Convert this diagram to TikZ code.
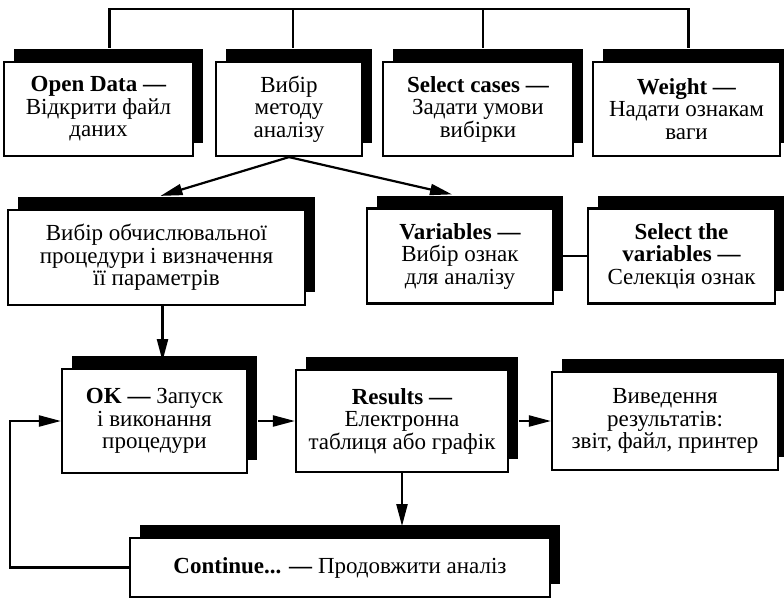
\documentclass[tikz,border=0pt]{standalone}
\usepackage{fontspec}
\setmainfont{Liberation Serif}
\usetikzlibrary{arrows.meta}
\usetikzlibrary{shadows}
\usetikzlibrary{calc}

\begin{document}
\begin{tikzpicture}[x=1pt, y=-1pt, line width=2.2pt,
>={Triangle[length=22pt,width=11pt]},
block/.style={draw, fill=white, align=center, inner sep=2pt,
  font=\fontsize{23}{22.5}\selectfont,
  drop shadow={shadow xshift=10pt, shadow yshift=13pt, fill=black, opacity=1}},
flow/.style={->}]
\useasboundingbox (0,0) rectangle (784,598);

\node [block, minimum width=189pt, minimum height=94pt] (open) at (98.5,109) {\textbf{Open Data —}\\Відкрити файл\\даних};
\node [block, minimum width=146pt, minimum height=94pt] (method) at (289,109) {Вибір\\методу\\аналізу};
\node [block, minimum width=190pt, minimum height=94pt] (cases) at (478,109) {\textbf{Select cases —}\\Задати умови\\вибірки};
\node [block, minimum width=187pt, minimum height=94pt] (weight) at (686.5,109) {\textbf{Weight —}\\Надати ознакам\\ваги};

\node [block, minimum width=297pt, minimum height=95pt] (proc) at (156.5,257.5) {Вибір обчислювальної\\процедури і визначення\\її параметрів};
\node [block, minimum width=186pt, minimum height=95pt] (vars) at (460,256) {\textbf{Variables —}\\Вибір ознак\\для аналізу};
\node [block, minimum width=187pt, minimum height=95pt] (selvars) at (681.5,256) {\textbf{Select the}\\\textbf{variables —}\\Селекція ознак};

\node [block, minimum width=185pt, minimum height=104pt] (ok) at (154.5,421) {\textbf{OK —} Запуск\\і виконання\\процедури};
\node [block, minimum width=212pt, minimum height=102pt] (results) at (402,421) {\textbf{Results —}\\Електронна\\таблиця або графік};
\node [block, minimum width=226pt, minimum height=98pt] (output) at (665,421) {Виведення\\результатів:\\звіт, файл, принтер};

\node [block, minimum width=420pt, minimum height=59pt] (cont) at (340,567.5) {\textbf{Continue... —} Продовжити аналіз};

% top bus
\draw ($(open.north)+(11,-13)$) |- ($(weight.north)+(2,-52)$) -- ($(weight.north)+(2,-13)$);
\draw ($(method.north)+(4,-13)$) -- ++(0,-39);
\draw ($(cases.north)+(5,-13)$) -- ++(0,-39);

\draw [flow] (method.south) -- ($(proc.north)+(4,-13)$);
\draw [flow] (method.south) -- ($(vars.north)+(-8,-13)$);
\draw (vars.east) -- (selvars.west);
\draw [flow] ($(proc.south)+(6,0)$) -- ($(proc.south)+(6,55)$);
\draw [flow] ($(ok.east)+(10,0)$) -- (results.west);
\draw [flow] ($(results.east)+(10,0)$) -- (output.west);
\draw [flow] (results.south) -- ++(0,53);
\draw [flow] (cont.west) -- ++(-119,0) |- (ok.west);
\end{tikzpicture}
\end{document}
